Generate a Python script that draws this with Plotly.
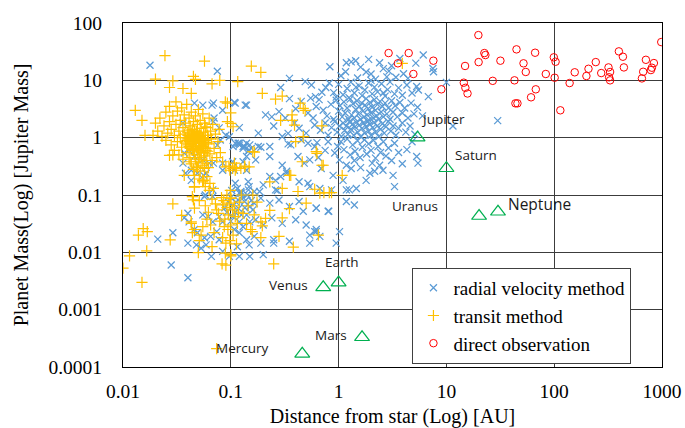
import math
import plotly.graph_objects as go

# Exoplanets: (semi-major axis [AU], mass [Jupiter masses])
rv_points = [
    # massive, wide-orbit planets
    (0.83, 17.3), (1.18, 20.3), (1.31, 21), (1.44, 22), (1.9, 23.2), (2.4, 20.3), (1.16, 14.1),
    (1.8, 14), (2.0, 12.9), (2.93, 14.5), (3.4, 11.3), (6.1, 27.6), (7.5, 16.1), (7.6, 14.1),
    (4.4, 10.8), (1.5, 11), (2.6, 16), (3.1, 18), (1.05, 12), (2.2, 10.5), (4.0, 13), (3.7, 24),
    (2.8, 11.5), (1.6, 17), (5.2, 20),
    # 5 - 10 Mj
    (5.5, 6.8), (6.8, 5.2), (5.3, 7.8), (0.35, 10.8), (0.29, 7.5), (0.49, 9.5), (0.56, 8.3),
    (0.61, 5.2), (0.76, 7.5), (0.9, 6.1), (1.0, 8.5), (1.1, 5.6), (1.2, 7.2), (1.3, 9.3), (1.4, 6.0),
    (1.55, 8.0), (1.65, 5.4), (1.75, 6.8), (1.9, 9.0), (2.05, 5.8), (2.15, 7.6), (2.3, 6.3),
    (2.5, 8.7), (2.7, 5.3), (2.85, 6.9), (3.0, 9.4), (3.3, 5.8), (3.6, 7.4), (3.9, 5.5), (4.3, 8.3),
    (4.8, 6.0), (0.95, 5.1), (1.25, 5.0), (2.0, 10.0), (2.6, 6.0), (1.45, 7.6), (0.7, 6.2), (0.82, 9.0),
    # 2 - 5 Mj
    (0.108, 4.1), (0.14, 3.7), (0.21, 2.5), (0.24, 2.3), (0.28, 2.85), (0.32, 2.2), (0.62, 3.5),
    (0.72, 3.0), (0.45, 4.3), (0.52, 2.7), (0.58, 2.2), (0.66, 4.6), (0.78, 2.4), (0.85, 3.8),
    (0.9, 2.1), (0.95, 4.5), (1.0, 2.9), (1.03, 3.6), (1.08, 2.3), (1.12, 4.2), (1.15, 2.7),
    (1.2, 3.3), (1.24, 2.1), (1.28, 4.7), (1.32, 2.5), (1.36, 3.9), (1.4, 2.2), (1.44, 3.1),
    (1.48, 4.4), (1.52, 2.6), (1.56, 3.5), (1.6, 2.1), (1.64, 4.0), (1.68, 2.9), (1.72, 2.3),
    (1.76, 3.7), (1.8, 4.8), (1.84, 2.5), (1.88, 3.2), (1.92, 2.0), (1.96, 4.1), (2.0, 2.7),
    (2.05, 3.4), (2.1, 2.2), (2.15, 4.6), (2.2, 3.0), (2.25, 2.4), (2.3, 3.8), (2.36, 2.1),
    (2.42, 4.3), (2.48, 2.8), (2.55, 3.5), (2.6, 2.3), (2.7, 4.0), (2.8, 2.6), (2.9, 3.3),
    (3.0, 2.1), (3.1, 4.4), (3.2, 2.8), (3.35, 3.6), (3.5, 2.3), (3.7, 4.1), (3.9, 2.7), (4.1, 3.3),
    (4.4, 2.2), (4.7, 4.0), (5.0, 2.6), (5.4, 3.4), (6.0, 2.4), (0.4, 3.2), (0.35, 4.8), (0.55, 4.9),
    # 1 - 2 Mj
    (0.43, 1.46), (0.34, 1.19), (0.6, 1.66), (0.5, 1.2), (0.68, 1.35), (0.75, 1.8), (0.8, 1.1),
    (0.86, 1.5), (0.92, 1.9), (0.97, 1.25), (1.02, 1.6), (1.06, 1.05), (1.1, 1.8), (1.14, 1.35),
    (1.18, 1.6), (1.22, 1.15), (1.26, 1.9), (1.3, 1.4), (1.34, 1.7), (1.38, 1.1), (1.42, 1.55),
    (1.46, 1.85), (1.5, 1.25), (1.55, 1.65), (1.6, 1.05), (1.65, 1.45), (1.7, 1.8), (1.75, 1.2),
    (1.8, 1.55), (1.85, 1.95), (1.9, 1.3), (1.95, 1.7), (2.0, 1.1), (2.07, 1.5), (2.14, 1.85),
    (2.2, 1.25), (2.28, 1.6), (2.36, 1.05), (2.45, 1.4), (2.55, 1.75), (2.65, 1.2), (2.75, 1.55),
    (2.9, 1.9), (3.05, 1.3), (3.2, 1.6), (3.4, 1.1), (3.6, 1.45), (3.9, 1.8), (4.2, 1.25),
    (4.6, 1.6), (5.1, 1.15), (0.12, 1.5), (0.18, 1.2), (0.25, 1.6), (0.3, 1.05), (0.39, 1.8),
    # 0.1 - 1 Mj
    (0.12, 0.8), (0.134, 0.7), (0.155, 0.65), (0.18, 0.7), (0.23, 0.7), (0.34, 0.78), (0.36, 0.75),
    (0.45, 0.91), (0.52, 0.8), (0.14, 0.47), (0.17, 0.41), (0.23, 0.47), (0.42, 0.47), (0.54, 0.41),
    (0.33, 0.24), (0.43, 0.17), (0.52, 0.16), (0.69, 0.29), (0.89, 0.22), (1.1, 0.18), (0.12, 0.108),
    (0.185, 0.115), (0.27, 0.12), (1.18, 0.123), (1.46, 0.13), (1.8, 0.18), (2.16, 0.26),
    (2.58, 0.27), (3.2, 0.22), (3.3, 0.14), (5.3, 0.47), (5.45, 0.36), (0.98, 0.7), (0.92, 0.54),
    (1.02, 0.41), (1.18, 0.33), (1.31, 0.29), (1.05, 0.85), (1.12, 0.62), (1.2, 0.95), (1.28, 0.5),
    (1.35, 0.75), (1.42, 0.58), (1.5, 0.88), (1.58, 0.45), (1.66, 0.68), (1.74, 0.92), (1.82, 0.52),
    (1.9, 0.78), (2.0, 0.6), (2.1, 0.9), (2.2, 0.44), (2.32, 0.7), (2.45, 0.55), (2.6, 0.85),
    (2.75, 0.48), (2.9, 0.66), (3.1, 0.4), (3.3, 0.8), (3.6, 0.55), (3.9, 0.35), (4.3, 0.62),
    (4.8, 0.85), (1.6, 0.3), (1.95, 0.24), (2.4, 0.33), (2.05, 0.36), (1.4, 0.4), (0.75, 0.6),
    (0.65, 0.45), (0.8, 0.85), (0.6, 0.7), (0.105, 0.7), (0.117, 0.8), (0.13, 0.7), (0.15, 0.75),
    (0.145, 0.58), (0.19, 0.68), (0.63, 0.82), (0.3, 0.33), (0.48, 0.36), (0.33, 0.26), (0.29, 0.21),
    (0.26, 0.18), (0.23, 0.21), (0.54, 0.14), (0.67, 0.13), (0.86, 0.123), (0.125, 0.108),
    (0.146, 0.123), (0.165, 0.115), (0.2, 0.15), (0.26, 0.123),
    # hot and warm planets inside 0.15 AU
    (0.09, 1.1), (0.08, 0.91), (0.075, 0.74), (0.097, 1.04), (0.11, 0.8), (0.12, 0.74), (0.13, 0.65),
    (0.14, 0.8), (0.148, 0.61), (0.036, 1.8), (0.037, 0.54), (0.041, 0.61), (0.046, 0.47),
    (0.055, 0.41), (0.043, 0.27), (0.059, 0.24), (0.063, 0.36), (0.068, 0.123), (0.084, 0.36),
    (0.084, 0.27), (0.104, 0.38), (0.108, 0.27), (0.13, 0.38), (0.14, 0.27), (0.145, 0.17),
    (0.124, 0.115), (0.057, 0.094), (0.068, 0.094), (0.036, 0.36), (0.038, 0.24), (0.043, 0.18),
    (0.049, 0.24), (0.056, 0.22), (0.069, 0.36), (0.046, 4.0), (0.055, 3.7), (0.067, 3.7),
    (0.084, 3.0), (0.07, 2.2), (0.069, 1.9), (0.11, 4.0), (0.136, 3.7), (0.069, 4.0), (0.078, 1.48),
    # low-mass planets
    (0.117, 0.082), (0.134, 0.077), (0.15, 0.063), (0.165, 0.072), (0.19, 0.088), (0.23, 0.072),
    (0.28, 0.082), (0.35, 0.063), (0.43, 0.077), (0.47, 0.052), (0.62, 0.059), (0.81, 0.052),
    (1.26, 0.123), (0.105, 0.042), (0.12, 0.034), (0.13, 0.028), (0.15, 0.034), (0.17, 0.037),
    (0.2, 0.03), (0.24, 0.04), (0.3, 0.032), (0.4, 0.037), (0.5, 0.03), (0.62, 0.025), (0.12, 0.022),
    (0.14, 0.0166), (0.165, 0.019), (0.19, 0.0145), (0.25, 0.0166), (0.35, 0.0156), (0.54, 0.02),
    (0.6, 0.023), (0.95, 0.0145), (0.12, 0.0085), (0.15, 0.0085), (0.2, 0.0091), (0.25, 0.0145),
    (0.058, 0.1), (0.124, 0.108), (0.148, 0.14), (0.04, 0.048), (0.037, 0.04), (0.041, 0.034),
    (0.055, 0.045), (0.062, 0.042), (0.068, 0.034), (0.078, 0.042), (0.084, 0.034), (0.046, 0.025),
    (0.049, 0.022), (0.057, 0.018), (0.065, 0.019), (0.074, 0.023), (0.078, 0.0166), (0.04, 0.0145),
    (0.048, 0.0135), (0.053, 0.0118), (0.059, 0.0135), (0.066, 0.0085), (0.084, 0.0104),
    (0.097, 0.0085), (0.115, 0.0125), (0.148, 0.0135), (0.1, 0.09), (0.105, 0.065), (0.11, 0.05),
    (0.1, 0.035), (0.108, 0.025), (0.112, 0.075), (0.118, 0.058), (0.125, 0.045), (0.13, 0.09),
    (0.135, 0.06), (0.14, 0.045), (0.142, 0.1), (0.155, 0.08), (0.16, 0.055), (0.095, 0.075),
    (0.092, 0.05), (0.088, 0.06), (0.102, 0.12), (0.115, 0.13), (0.11, 0.16), (1.02, 0.023),
    (0.62, 0.023), (0.67, 0.019), (0.54, 0.0145), (1.4, 0.067), (1.18, 0.077), (0.8, 0.052),
    (0.62, 0.059),
    # isolated detections
    (0.0178, 18.3), (0.075, 14.4), (0.021, 0.017), (0.029, 0.022), (0.028, 0.006), (0.04, 0.0036),
    (10, 9.2), (11.5, 1.6), (29.9, 1.98),
]

transit_points = [
    # hot Jupiters
    (0.020, 1.8), (0.021, 1.3), (0.022, 2.2), (0.023, 1.05), (0.024, 1.6), (0.025, 2.8), (0.025, 0.9),
    (0.026, 1.2), (0.027, 3.5), (0.027, 1.9), (0.028, 0.75), (0.028, 1.4), (0.029, 2.4), (0.03, 1.1),
    (0.03, 0.6), (0.031, 4.2), (0.031, 1.7), (0.032, 0.85), (0.032, 2.9), (0.033, 1.3), (0.033, 0.5),
    (0.034, 2.0), (0.034, 1.0), (0.035, 0.68), (0.035, 3.3), (0.036, 1.5), (0.036, 0.42),
    (0.037, 2.5), (0.037, 1.15), (0.038, 0.8), (0.038, 1.8), (0.039, 0.55), (0.039, 3.8),
    (0.04, 1.25), (0.04, 0.95), (0.041, 2.2), (0.041, 0.7), (0.042, 1.6), (0.042, 0.38),
    (0.043, 1.05), (0.043, 2.8), (0.044, 0.6), (0.044, 1.4), (0.045, 0.88), (0.045, 1.9),
    (0.046, 0.5), (0.046, 1.15), (0.047, 2.4), (0.047, 0.72), (0.048, 1.3), (0.048, 0.32),
    (0.049, 0.98), (0.049, 1.7), (0.05, 0.62), (0.05, 3.1), (0.051, 1.2), (0.051, 0.45),
    (0.052, 0.85), (0.052, 2.0), (0.053, 1.45), (0.053, 0.55), (0.054, 1.0), (0.055, 0.7),
    (0.055, 2.6), (0.056, 1.25), (0.057, 0.48), (0.057, 1.8), (0.058, 0.9), (0.059, 0.6),
    (0.06, 1.5), (0.06, 0.36), (0.061, 1.1), (0.062, 0.78), (0.063, 2.2), (0.064, 0.52),
    (0.065, 1.3), (0.066, 0.95), (0.067, 0.4), (0.068, 1.7), (0.07, 0.65), (0.072, 1.15),
    (0.074, 0.45), (0.076, 0.85), (0.078, 1.4), (0.08, 0.55),
    (0.038, 1.0), (0.039, 0.9), (0.04, 0.75), (0.04, 1.1), (0.041, 0.85), (0.041, 1.35),
    (0.042, 0.95), (0.042, 0.65), (0.043, 1.2), (0.043, 0.78), (0.044, 1.0), (0.044, 0.7),
    (0.045, 1.1), (0.045, 0.62), (0.046, 0.92), (0.046, 1.3), (0.047, 0.8), (0.047, 1.05),
    (0.048, 0.68), (0.048, 0.95), (0.049, 1.15), (0.049, 0.58), (0.05, 0.85), (0.05, 1.05),
    (0.051, 0.72), (0.051, 0.95), (0.052, 1.1), (0.052, 0.6), (0.053, 0.8), (0.054, 0.9),
    (0.054, 0.65), (0.055, 1.0), (0.056, 0.75), (0.056, 0.55), (0.057, 0.88), (0.058, 1.1),
    (0.058, 0.68), (0.06, 0.82), (0.061, 0.58), (0.062, 0.95),
    (0.041, 0.45), (0.043, 0.35), (0.045, 0.28), (0.047, 0.42), (0.049, 0.3), (0.05, 0.38),
    (0.052, 0.26), (0.053, 0.42), (0.055, 0.33), (0.057, 0.29), (0.059, 0.4), (0.062, 0.3),
    (0.046, 0.22), (0.051, 0.19), (0.055, 0.17), (0.06, 0.21), (0.064, 0.16), (0.058, 0.14),
    (0.063, 0.12),
    # massive or distant transiting planets
    (0.0245, 27), (0.057, 21.6), (0.020, 10.5), (0.029, 9.8), (0.045, 11.7), (0.047, 10.4),
    (0.067, 8.7), (0.079, 10), (0.027, 7.5), (0.036, 7.2), (0.043, 5.9), (0.013, 3.0), (0.015, 2.0),
    (0.016, 1.1), (0.019, 1.1), (0.027, 0.49), (0.029, 0.5), (0.037, 0.22), (0.055, 0.18),
    (0.069, 0.13), (0.096, 0.32), (0.098, 0.27), (0.093, 4.0), (0.1, 1.78), (0.093, 1.9),
    (0.058, 1.55), (0.084, 0.38), (0.09, 0.31), (0.104, 0.29), (0.11, 0.27), (0.124, 0.29),
    (0.134, 0.32), (0.148, 0.31), (0.046, 0.14), (0.055, 0.18), (0.044, 0.094), (0.1, 0.088),
    (0.155, 17.7), (0.19, 13.8), (0.196, 5.9), (0.26, 4.7), (0.3, 5.3), (0.44, 4.0), (0.47, 3.25),
    (0.49, 3.0), (0.37, 2.5), (0.37, 2.0), (0.39, 1.66), (0.29, 2.0), (0.7, 1.6), (0.47, 1.04),
    (0.4, 0.85), (0.16, 0.57), (0.116, 9.5), (0.089, 4.2), (0.1, 2.7), (0.105, 1.55), (0.62, 0.57),
    (0.72, 0.33), (1.08, 0.22), (0.23, 0.17), (0.3, 0.13), (0.35, 0.22), (0.42, 0.115),
    (0.67, 0.108), (0.82, 0.11), (3.9, 19.8),
    # small planets
    (0.046, 0.137), (0.056, 0.18), (0.029, 0.07), (0.0154, 0.026), (0.0168, 0.023), (0.0139, 0.02),
    (0.0274, 0.0165), (0.0166, 0.0106), (0.0115, 0.0087), (0.01, 0.0053), (0.015, 0.003),
    (0.083, 0.0063), (0.09, 0.006), (0.035, 0.044), (0.043, 0.034), (0.046, 0.025), (0.051, 0.016),
    (0.05, 0.0099), (0.067, 0.0126), (0.084, 0.018), (0.09, 0.0145), (0.089, 0.0097), (0.1, 0.0087),
    (0.045, 0.082), (0.051, 0.08), (0.067, 0.085), (0.046, 0.059), (0.074, 0.055), (0.084, 0.067),
    (0.077, 0.048), (0.043, 0.032), (0.044, 0.022), (0.055, 0.028), (0.053, 0.02), (0.097, 0.072),
    (0.104, 0.055), (0.11, 0.042), (0.115, 0.032), (0.1, 0.088), (0.14, 0.032), (0.153, 0.025),
    (0.13, 0.048), (0.166, 0.56), (0.108, 0.36), (0.113, 0.3), (0.135, 0.31), (0.36, 0.22),
    (0.63, 0.53), (0.7, 0.33), (0.6, 0.126), (0.73, 0.11), (0.86, 0.11), (0.46, 0.38), (0.5, 0.072),
    (0.23, 0.054), (0.35, 0.058), (0.3, 0.04), (0.65, 0.02), (0.28, 0.019), (0.19, 0.018),
    (0.38, 0.0123), (0.25, 0.0063), (0.196, 0.029), (0.19, 0.034), (0.21, 0.039), (0.158, 0.023),
    (0.113, 0.014), (0.1, 0.0091), (0.086, 0.08), (0.092, 0.06), (0.095, 0.045), (0.088, 0.038),
    (0.1, 0.03), (0.094, 0.025), (0.105, 0.02), (0.098, 0.016), (0.087, 0.028), (0.108, 0.065),
    (0.092, 0.1), (0.099, 0.12), (0.082, 0.09), (0.079, 0.035), (0.072, 0.07), (0.062, 0.05),
    (0.06, 0.038), (0.065, 0.03), (0.07, 0.022), (0.058, 0.065), (0.12, 0.075), (0.125, 0.1),
    (0.118, 0.05), (0.145, 0.065), (0.165, 0.045), (0.175, 0.075), (0.16, 0.1), (0.074, 0.00021),
]

direct_points = [
    (2.91, 29.9), (3.55, 19.8), (4.47, 29.9), (4.94, 12.9), (7.57, 22), (8.98, 6.97), (14.9, 17.8),
    (14.5, 9.1), (15, 7.4), (15.7, 5.9), (19.8, 61.5), (19.9, 20.8), (22.5, 29.9), (23, 27.6),
    (26.9, 9.8), (31.7, 22), (42.8, 10), (43.7, 3.97), (45.6, 3.97), (44.7, 34.7), (51.9, 19.8),
    (54.5, 14), (61, 5.06), (67.5, 6.97), (66.5, 30.3), (83.6, 12.9), (99.2, 25.2), (103, 21.1),
    (101, 11.1), (114, 3.0), (139, 8.97), (155, 13.8), (199, 11.9), (208, 15.9), (243, 20.8),
    (273, 13.4), (319, 16.8), (330, 14), (323, 11.3), (330, 10), (398, 32), (434, 25.8), (443, 16.8),
    (651, 10.8), (669, 14.1), (709, 22.8), (789, 15.1), (806, 16.6), (841, 20), (984, 46.5),
]

# Solar-system planets
sol_names = ["Mercury", "Venus", "Earth", "Mars", "Jupiter", "Saturn", "Uranus", "Neptune"]
sol_dist = [0.46, 0.72, 1.0, 1.65, 5.4, 10.0, 20.1, 30.1]
sol_mass = [0.00017, 0.00245, 0.00297, 0.00033, 1.0, 0.293, 0.043, 0.051]
# label offsets from each triangle, in pixels (dx right, dy up) and font size
sol_label_offsets = [(-60, 6), (-35, 2), (3, 21), (-31, 2), (25, 19), (30, 13), (-64, 10), (42, 8)]
sol_label_sizes = [13.5, 13.5, 13.5, 13.5, 13.5, 13.5, 13.5, 15.5]

x_ticks = [0.01, 0.1, 1, 10, 100, 1000]
x_tick_text = ["0.01", "0.1", "1", "10", "100", "1000"]
y_ticks = [0.0001, 0.001, 0.01, 0.1, 1, 10, 100]
y_tick_text = ["0.0001", "0.001", "0.01", "0.1", "1", "10", "100"]

SERIF = "Liberation Serif"
BLUE = "#5b9bd5"
GOLD = "#ffc000"
RED = "#ff0000"
GREEN = "#00b050"


def unzip(points):
    return [p[0] for p in points], [p[1] for p in points]


fig = go.Figure()

rv_d, rv_m = unzip(rv_points)
fig.add_trace(go.Scatter(
    x=rv_d, y=rv_m, mode="markers", name="radial velocity method",
    marker=dict(symbol="x-thin", size=7, color=BLUE, line=dict(color=BLUE, width=1.25)),
))

tr_d, tr_m = unzip(transit_points)
fig.add_trace(go.Scatter(
    x=tr_d, y=tr_m, mode="markers", name="transit method",
    marker=dict(symbol="cross-thin", size=8, color=GOLD, line=dict(color=GOLD, width=1.2)),
))

di_d, di_m = unzip(direct_points)
fig.add_trace(go.Scatter(
    x=di_d, y=di_m, mode="markers", name="direct observation",
    marker=dict(symbol="circle-open", size=7.5, color=RED, line=dict(color=RED, width=1)),
))

fig.add_trace(go.Scatter(
    x=sol_dist, y=sol_mass, mode="markers", showlegend=False,
    marker=dict(symbol="triangle-up-open", size=13, color=GREEN, line=dict(color=GREEN, width=1.2)),
))

for name, d, m, (dx, dy), fs in zip(sol_names, sol_dist, sol_mass, sol_label_offsets, sol_label_sizes):
    fig.add_annotation(
        x=math.log10(d), y=math.log10(m), text=name, showarrow=False,
        xshift=dx, yshift=dy, font=dict(family="Open Sans", size=fs, color="#1a1a1a"),
    )

axis_common = dict(
    type="log", showgrid=True, gridcolor="#3c3c3c", gridwidth=1,
    showline=True, linecolor="black", linewidth=1, mirror=True,
    ticks="", tickfont=dict(family=SERIF, size=19.5, color="black"),
    title_font=dict(family=SERIF, size=20, color="black"),
)

fig.update_xaxes(
    range=[-2, 3], tickvals=x_ticks, ticktext=x_tick_text, ticklabelstandoff=7,
    title_text="Distance from star (Log) [AU]", title_standoff=8, **axis_common,
)
fig.update_yaxes(
    range=[-4, 2], tickvals=y_ticks, ticktext=y_tick_text, ticklabelstandoff=16,
    title_text="Planet Mass(Log) [Jupiter Mass]", title_standoff=14, **axis_common,
)

fig.update_layout(
    width=685, height=428,
    margin=dict(l=123, r=23, t=23, b=61, autoexpand=False),
    paper_bgcolor="white", plot_bgcolor="white",
    legend=dict(
        x=0.537, y=0.288, xanchor="left", yanchor="top",
        bgcolor="white", bordercolor="#404040", borderwidth=1,
        font=dict(family=SERIF, size=19, color="black"),
        itemsizing="trace", tracegroupgap=0, entrywidth=222,
    ),
)

fig.write_html("out.html")
